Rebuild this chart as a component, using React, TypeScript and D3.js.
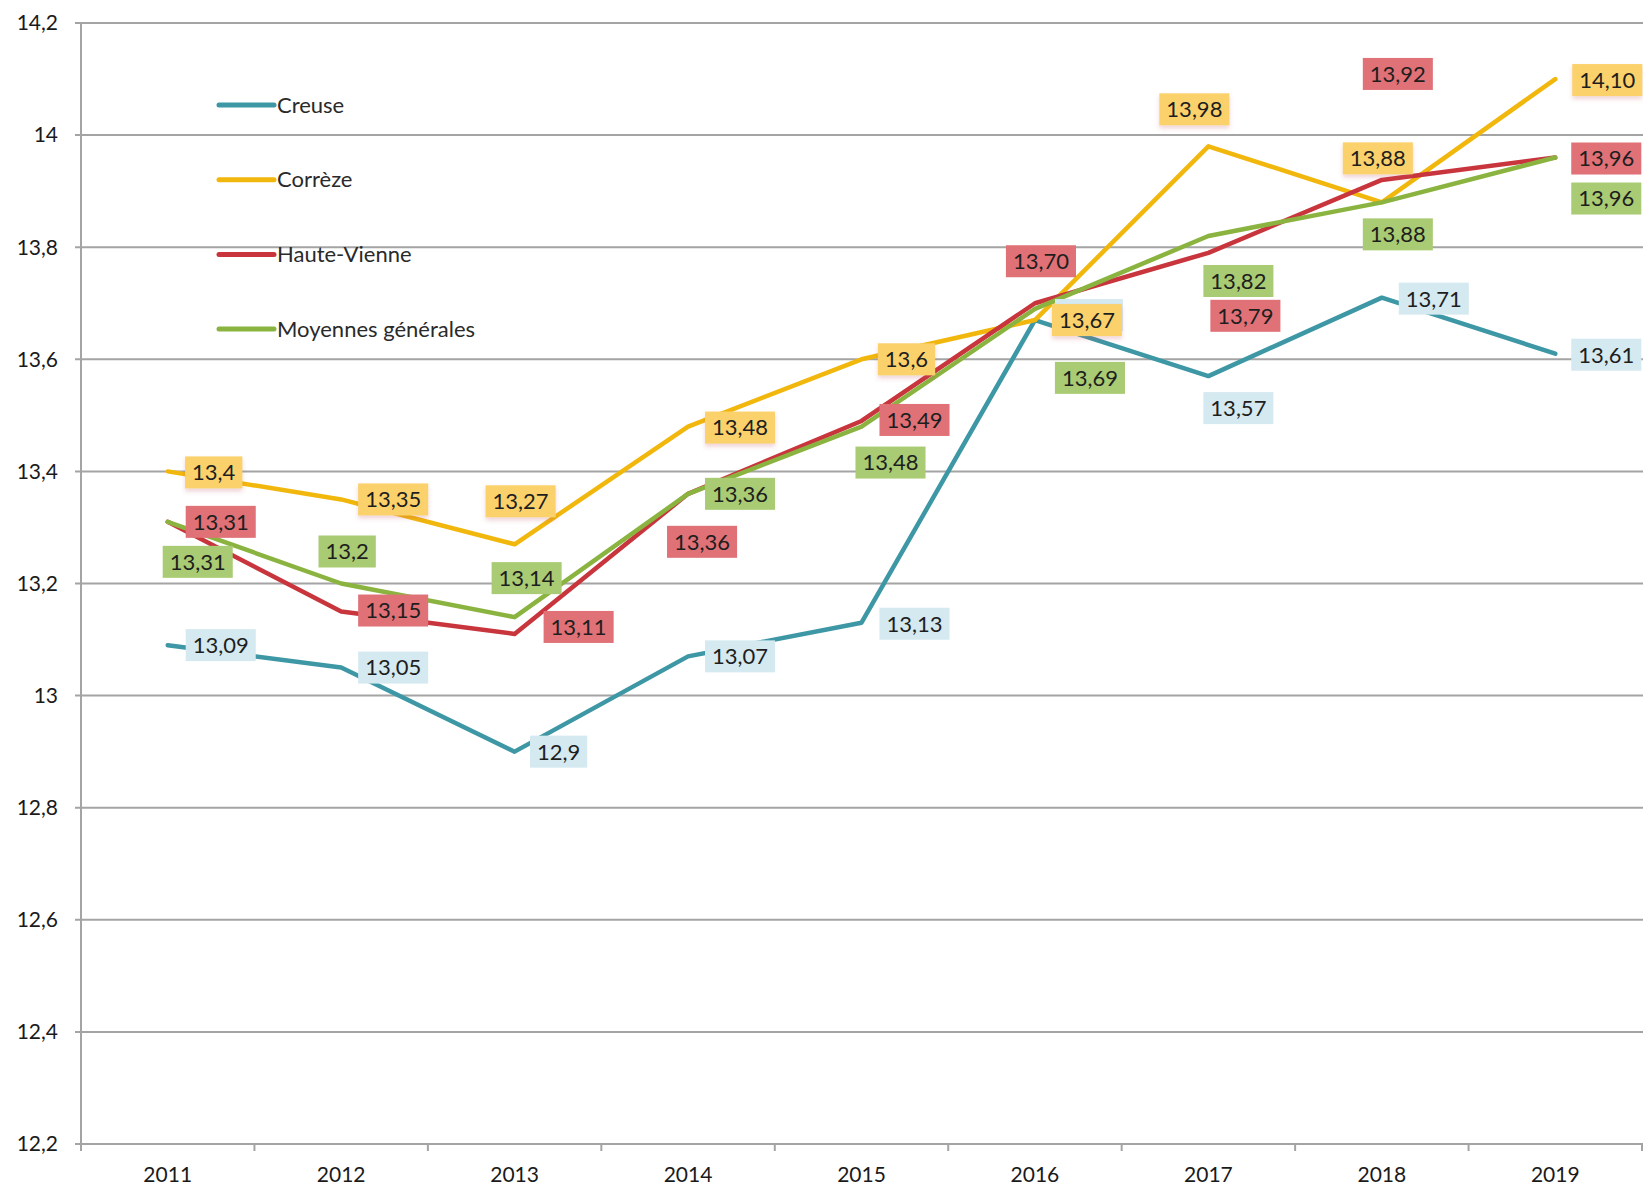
import React, { useEffect, useRef } from 'react';
import * as d3 from 'd3';

// Years on the x axis
const years = ['2011', '2012', '2013', '2014', '2015', '2016', '2017', '2018', '2019'];

// Series values
const creuse = [13.09, 13.05, 12.9, 13.07, 13.13, 13.67, 13.57, 13.71, 13.61];
const correze = [13.4, 13.35, 13.27, 13.48, 13.6, 13.67, 13.98, 13.88, 14.1];
const hauteVienne = [13.31, 13.15, 13.11, 13.36, 13.49, 13.7, 13.79, 13.92, 13.96];
const moyennes = [13.31, 13.2, 13.14, 13.36, 13.48, 13.69, 13.82, 13.88, 13.96];

// Data label texts as printed on the chart ('' = label hidden behind another one)
const creuseLabels = ['13,09', '13,05', '12,9', '13,07', '13,13', '', '13,57', '13,71', '13,61'];
const correzeLabels = ['13,4', '13,35', '13,27', '13,48', '13,6', '13,67', '13,98', '13,88', '14,10'];
const hauteVienneLabels = ['13,31', '13,15', '13,11', '13,36', '13,49', '13,70', '13,79', '13,92', '13,96'];
const moyennesLabels = ['13,31', '13,2', '13,14', '13,36', '13,48', '13,69', '13,82', '13,88', '13,96'];

const seriesNames = ['Creuse', 'Corrèze', 'Haute-Vienne', 'Moyennes générales'];

const yTicks = [12.2, 12.4, 12.6, 12.8, 13, 13.2, 13.4, 13.6, 13.8, 14, 14.2];

// label placement (centre offset from the point, px)
const creuseOffsets = [[53, 0], [52, 0], [44, 0], [52, 0], [53, 1], [54, -5], [30, 32], [52, 1], [51, 1]];
const correzeOffsets = [[46, 1], [52, 0], [6, -43], [52, 1], [45, 0], [52, 0], [-14, -37], [-4, -44], [52, 1]];
const hauteVienneOffsets = [[53, 0], [52, -1], [64, -7], [14, 48], [53, -1], [6, -42], [37, 63], [16, -106], [51, 1]];
const moyennesOffsets = [[30, 40], [6, -32], [12, -39], [52, 0], [29, 36], [55, 69], [30, 45], [16, 32], [51, 41]];

const lineColors = ['#3d97a5', '#f1b70c', '#c8353c', '#8ab43f'];
const labelColors = ['#d5e9f0', '#fbd16c', '#df7177', '#a9cb73'];

const W = 1643;
const H = 1189;
const FONT = 'Lato, "Open Sans", sans-serif';

const fmt = (v: number) => {
  const s = (Math.round(v * 10) / 10).toString();
  return s.replace('.', ',');
};

export default function App() {
  const svgRef = useRef<SVGSVGElement>(null);

  useEffect(() => {
    if (!svgRef.current) return;
    const svg = d3.select(svgRef.current);
    svg.selectAll('*').remove();

    const left = 81;
    const right = 1642;
    const top = 23;
    const bottom = 1144;

    const x = d3.scaleBand().domain(years).range([left, right]);
    const y = d3.scaleLinear().domain([12.2, 14.2]).range([bottom, top]);
    const cx = (yr: string) => (x(yr) || 0) + x.bandwidth() / 2;

    const defs = svg.append('defs');
    const f = defs.append('filter').attr('id', 'lblshadow')
      .attr('x', '-20%').attr('y', '-20%').attr('width', '140%').attr('height', '160%');
    f.append('feDropShadow')
      .attr('dx', 0).attr('dy', 3).attr('stdDeviation', 2)
      .attr('flood-color', '#c0505a').attr('flood-opacity', 0.25);

    // gridlines
    svg.append('g')
      .selectAll('line')
      .data(yTicks.filter(t => t > 12.2))
      .enter().append('line')
      .attr('x1', left - 6)
      .attr('x2', W)
      .attr('y1', d => y(d))
      .attr('y2', d => y(d))
      .attr('stroke', '#a4a4a4')
      .attr('stroke-width', 2);

    // y axis
    svg.append('line')
      .attr('x1', left).attr('x2', left)
      .attr('y1', top).attr('y2', bottom + 6)
      .attr('stroke', '#a4a4a4').attr('stroke-width', 2);

    // x axis
    svg.append('line')
      .attr('x1', left - 6).attr('x2', W)
      .attr('y1', bottom).attr('y2', bottom)
      .attr('stroke', '#a4a4a4').attr('stroke-width', 2);

    const bounds = years.map(yr => x(yr) || 0).concat([right]);
    svg.append('g')
      .selectAll('line')
      .data(bounds)
      .enter().append('line')
      .attr('x1', d => d).attr('x2', d => d)
      .attr('y1', bottom).attr('y2', bottom + 7)
      .attr('stroke', '#a4a4a4').attr('stroke-width', 2);

    // y tick labels
    svg.append('g')
      .selectAll('text')
      .data(yTicks)
      .enter().append('text')
      .attr('x', 58)
      .attr('y', d => y(d))
      .attr('dy', '0.35em')
      .attr('text-anchor', 'end')
      .style('font-family', FONT)
      .style('font-size', '21px')
      .attr('fill', '#1a1a1a')
      .text(d => fmt(d));

    // x tick labels
    svg.append('g')
      .selectAll('text')
      .data(years)
      .enter().append('text')
      .attr('x', d => cx(d))
      .attr('y', bottom + 38)
      .attr('text-anchor', 'middle')
      .style('font-family', FONT)
      .style('font-size', '21px')
      .attr('fill', '#1a1a1a')
      .text(d => d);

    const allValues = [creuse, correze, hauteVienne, moyennes];
    const allLabels = [creuseLabels, correzeLabels, hauteVienneLabels, moyennesLabels];
    const allOffsets = [creuseOffsets, correzeOffsets, hauteVienneOffsets, moyennesOffsets];

    const line = d3.line<number>()
      .x((_, i) => cx(years[i]))
      .y(d => y(d));

    allValues.forEach((vals, s) => {
      svg.append('path')
        .datum(vals)
        .attr('d', line)
        .attr('fill', 'none')
        .attr('stroke', lineColors[s])
        .attr('stroke-width', 4.5)
        .attr('stroke-linejoin', 'round')
        .attr('stroke-linecap', 'round');
    });

    // data labels
    allValues.forEach((vals, s) => {
      const g = svg.append('g');
      vals.forEach((v, i) => {
        const [dx, dy] = allOffsets[s][i];
        const px = cx(years[i]) + dx;
        const py = y(v) + dy;
        const label = allLabels[s][i];
        const lg = g.append('g');
        const rect = lg.append('rect')
          .attr('fill', labelColors[s])
          .attr('filter', s === 1 ? 'url(#lblshadow)' : null);
        let tw = 54;
        if (label) {
          const t = lg.append('text')
            .attr('x', px)
            .attr('y', py)
            .attr('dy', '0.36em')
            .attr('text-anchor', 'middle')
            .style('font-family', FONT)
            .style('font-size', '22px')
            .attr('fill', '#1e1e1e')
            .text(label);
          tw = (t.node() as SVGTextElement).getComputedTextLength();
        }
        const bw = tw + 14;
        rect.attr('x', px - bw / 2).attr('y', py - 16).attr('width', bw).attr('height', 32);
      });
    });

    // legend
    const legend = svg.append('g');
    seriesNames.forEach((name, s) => {
      const ly = 105 + s * 74.7;
      legend.append('line')
        .attr('x1', 219).attr('x2', 274)
        .attr('y1', ly).attr('y2', ly)
        .attr('stroke', lineColors[s])
        .attr('stroke-width', 5)
        .attr('stroke-linecap', 'round');
      legend.append('text')
        .attr('x', 277)
        .attr('y', ly)
        .attr('dy', '0.35em')
        .style('font-family', FONT)
        .style('font-size', '22px')
        .attr('fill', '#2a2a2a')
        .text(name);
    });
  }, []);

  return (
    <svg
      ref={svgRef}
      width={W}
      height={H}
      style={{ position: 'absolute', left: 0, top: 0, background: '#fff' }}
    />
  );
}
